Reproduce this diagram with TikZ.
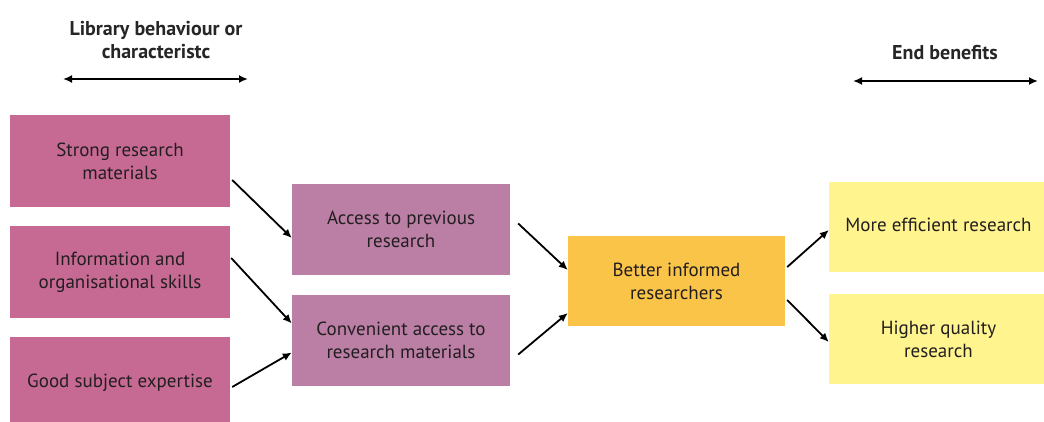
\documentclass[tikz,border=0pt]{standalone}
\usepackage{fontspec}
\setmainfont{PT Sans}
\usepackage{xcolor}
\usetikzlibrary{shapes,arrows.meta,positioning,calc}

\definecolor{libpink}{RGB}{198,106,148}
\definecolor{midpink}{RGB}{187,127,165}
\definecolor{bettergold}{RGB}{250,196,72}
\definecolor{benyellow}{RGB}{255,244,142}
\definecolor{inktext}{RGB}{34,30,32}

\begin{document}
\begin{tikzpicture}[x=1pt, y=-1pt, >={Latex[length=9pt,width=8pt]}]
  \tikzstyle{box}=[rectangle, inner sep=0pt, align=center, text=inktext, font=\fontsize{19}{23}\selectfont]
  \tikzstyle{libbox}=[box, fill=libpink, minimum width=220pt, minimum height=92pt]
  \tikzstyle{midbox}=[box, fill=midpink, minimum width=218pt, minimum height=91pt]
  \tikzstyle{betterbox}=[box, fill=bettergold, minimum width=217pt, minimum height=90pt]
  \tikzstyle{benbox}=[box, fill=benyellow, minimum width=219pt, minimum height=90pt]
  \tikzstyle{head}=[align=center, text=black!85, font=\bfseries\fontsize{20}{23}\selectfont]
  \tikzstyle{link}=[->, line width=1.8pt, black]

  \useasboundingbox (0,0) rectangle (1044,421);
  \clip (0,0) rectangle (1044,421);

  % Cabeceras
  \node[head] (hlib) at (156,40) {Library behaviour or\\characteristc};
  \coordinate (hlibl) at (63,79);
  \coordinate (hlibr) at (248,79);
  \draw[<->, line width=1.8pt] (hlibl) -- (hlibr);
  \node[head] (hben) at (945,53) {End benefits};
  \coordinate (hbenl) at (853,81);
  \coordinate (hbenr) at (1038,81);
  \draw[<->, line width=1.8pt] (hbenl) -- (hbenr);

  % Cajas
  \node[libbox] (strong) at (120,161) {Strong research\\materials};
  \node[libbox] (skills) at (120,272) {Information and\\organisational skills};
  \node[libbox] (expert) at (120,383) {\raisebox{3pt}{Good subject expertise}};
  \node[midbox] (access) at (401,229.5) {Access to previous\\research};
  \node[midbox] (conv) at (401,340.5) {Convenient access to\\research materials};
  \node[betterbox] (better) at (676.5,281) {Better informed\\researchers};
  \node[benbox] (effic) at (938.5,227) {\raisebox{4pt}{More efficient research}};
  \node[benbox] (quality) at (938.5,339) {Higher quality\\research};

  % Flechas
  \draw[link] ($(strong.east)+(2,19)$) -- ($(access.west)+(0,8.5)$);
  \draw[link] ($(skills.east)+(1,-14)$) -- ($(conv.west)+(0,-17)$);
  \draw[link] ($(expert.east)+(2,4)$) -- ($(conv.west)+(0,12)$);
  \draw[link] ($(access.east)+(8,-6)$) -- ($(better.west)+(0,-11)$);
  \draw[link] ($(conv.east)+(8,14)$) -- ($(better.west)+(0,32)$);
  \draw[link] ($(better.east)+(2,-14)$) -- ($(effic.west)+(0,3)$);
  \draw[link] ($(better.east)+(2,19)$) -- ($(quality.west)+(0,3)$);
\end{tikzpicture}
\end{document}
